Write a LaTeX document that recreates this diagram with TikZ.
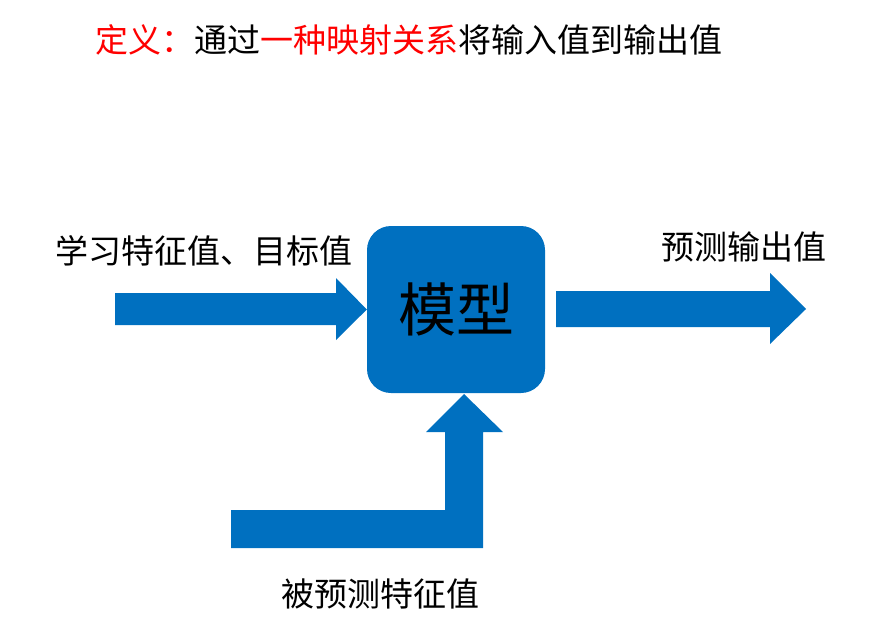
\documentclass[tikz,border=0pt]{standalone}
\usepackage{fontspec}
\newfontfamily\cjk{Noto Sans CJK SC}
\definecolor{myblue}{HTML}{0070C0}
\definecolor{myred}{HTML}{FF0000}
\begin{document}
\begin{tikzpicture}[x=1pt,y=-1pt,
  lbl/.style={inner sep=0pt, font=\cjk\fontsize{33}{33}\selectfont, text height=29pt, text depth=4pt},
  blockarrow/.style={fill=myblue, draw=none}]
\useasboundingbox (0,0) rectangle (894,622);
% title
\node[lbl, anchor=west] (title) at (95,40) {\textcolor{myred}{定义：}通过\textcolor{myred}{一种映射关系}将输入值到输出值};
% model box
\node[fill=myblue, rounded corners=24pt, minimum width=178pt, minimum height=167pt, inner sep=0pt,
  font=\cjk\fontsize{58}{58}\selectfont, text height=51pt, text depth=7pt] (model) at (456,309.5) {模型};
% labels
\node[lbl] (in) at (203.5,251) {学习特征值、目标值};
\node[lbl] (out) at (744,247) {预测输出值};
\node[lbl] (pred) at (380,594) {被预测特征值};
% left arrow
\path[blockarrow] (115,293) -- (336,293) -- (336,278) -- (model.west) -- (336,340) -- (336,325) -- (115,325) -- cycle;
% right arrow
\coordinate (rtip) at (806,309);
\path[blockarrow] (556,291) -- (770,291) -- (770,273) -- (rtip) -- (770,344) -- (770,327) -- (556,327) -- cycle;
% bottom arrow
\coordinate (btip) at (464,394);
\path[blockarrow] (231,510) -- (445,510) -- (445,432) -- (426,432) -- (btip) -- (503,432) -- (483,432) -- (483,548) -- (231,548) -- cycle;
\end{tikzpicture}
\end{document}
